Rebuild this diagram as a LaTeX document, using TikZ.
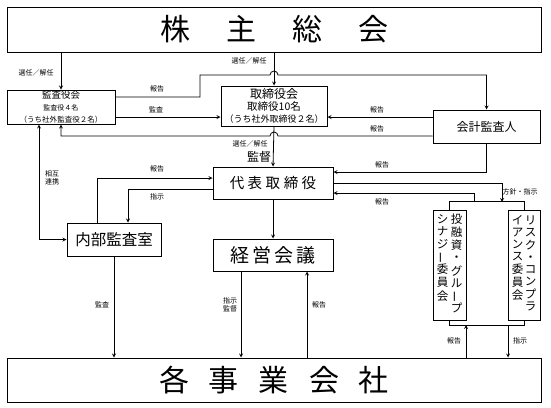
\documentclass[tikz,border=0pt]{standalone}
\usepackage{fontspec}
\setmainfont{Noto Sans CJK JP}
\usepackage{graphicx}
\usetikzlibrary{arrows}
\usetikzlibrary{calc}

\tikzset{
	box/.style={draw, line width=1pt, inner sep=0pt, align=center},
	lbl/.style={inner sep=0pt, align=center, font=\fontsize{7}{8.5}\selectfont},
	link/.style={line width=0.8pt}
}
\newcommand{\tate}[1]{\begin{tabular}[t]{@{}c@{}}#1\end{tabular}}
\newcommand{\tbar}{\rotatebox[origin=c]{90}{ー}}

\begin{document}
\begin{tikzpicture}[>=stealth, x=1pt, y=-1pt]
\useasboundingbox (0,0) rectangle (551,407);

	\node[box, minimum width=534pt, minimum height=45pt, font=\fontsize{30}{32}\selectfont] (soukai) at (274,29.5) {株\hspace{36pt}主\hspace{36pt}総\hspace{36pt}会};
	\node[box, minimum width=534pt, minimum height=44pt, font=\fontsize{30}{32}\selectfont] (kaisha) at (274,380) {各\hspace{20pt}事\hspace{20pt}業\hspace{20pt}会\hspace{20pt}社};

	\node[box, minimum width=108pt, minimum height=34pt] (kansa) at (61,107) {\fontsize{9.5}{10.5}\selectfont 監査役会\\ \fontsize{7}{10}\selectfont 監査役４名\\ \fontsize{7.5}{10}\selectfont （うち社外監査役２名）};
	\node[box, minimum width=106pt, minimum height=40pt] (tori) at (274,106) {\fontsize{12}{12.5}\selectfont 取締役会\\ \fontsize{10.5}{12.5}\selectfont 取締役10名\\ \fontsize{9}{12.5}\selectfont （うち社外取締役２名）};
	\node[box, minimum width=107pt, minimum height=33pt, font=\fontsize{12}{14}\selectfont] (kaikei) at (486.5,126.5) {会計監査人};
	\node[box, minimum width=120pt, minimum height=32pt, font=\fontsize{14.5}{16}\selectfont] (daihyo) at (273,183) {代\hspace{3.5pt}表\hspace{3.5pt}取\hspace{3.5pt}締\hspace{3.5pt}役};
	\node[box, minimum width=94pt, minimum height=33pt, font=\fontsize{15.5}{17}\selectfont] (naibu) at (114,239.5) {内部監査室};
	\node[box, minimum width=120pt, minimum height=32pt, font=\fontsize{19}{21}\selectfont] (keiei) at (273,255) {経\hspace{3pt}営\hspace{3pt}会\hspace{3pt}議};
	\node[box, minimum width=33pt, minimum height=110pt, font=\fontsize{11.5}{12}\selectfont] (toyushi) at (449.5,265) {\tate{シ\\ナ\\ジ\\\tbar\\委\\員\\会}\hspace{2.5pt}\tate{投\\融\\資\\・\\グ\\ル\\\tbar\\プ}};
	\node[box, minimum width=32pt, minimum height=110pt, font=\fontsize{11.5}{12}\selectfont] (risk) at (524,265) {\tate{イ\\ア\\ン\\ス\\委\\員\\会}\hspace{1.5pt}\tate{リ\\ス\\ク\\・\\コ\\ン\\プ\\ラ}};

	\coordinate (bend) at (200,75);
	\coordinate (hopA) at (270,75);
	\coordinate (hopB) at (278,136);
	\coordinate (shin) at (502,202);
	\coordinate (hou) at (474,202);
	\coordinate (barup) at (466,325);
	\coordinate (bardown) at (508,325);

	% 株主総会から
	\draw[link,->] (kansa.north |- soukai.south) -- (kansa.north);
	\draw[link,->] (tori.north |- soukai.south) -- (tori.north);
	\node[lbl] (l1) at (36,73) {選任／解任};
	\node[lbl] (l2) at (249,61) {選任／解任};

	% 監査役会・会計監査人・取締役会
	\draw[link,->] (kansa.east |- 0,97) -| (bend) -- (hopA) arc(180:360:4) -| (kaikei.north);
	\draw[link,->] (kansa.east |- 0,117) -- (tori.west |- 0,117);
	\draw[link,->] (kaikei.west |- 0,117) -- (tori.east |- 0,117);
	\draw[link,->] (kaikei.west |- 0,136) -- (hopB) arc(0:-180:4) -| (kansa.south);
	\node[lbl] (l3) at (157,89) {報告};
	\node[lbl] (l4) at (156,110) {監査};
	\node[lbl] (l5) at (377,110) {報告};
	\node[lbl] (l6) at (377,129) {報告};

	% 取締役会から代表取締役
	\draw[link,->] (tori.south) -- (daihyo.north);
	\node[lbl] (l7) at (250,144) {選任／解任};
	\node[inner sep=0pt, font=\fontsize{12}{13}\selectfont] (l8) at (259,157) {監督};

	% 内部監査室
	\draw[link,<->] (kansa.south -| 39,0) |- (naibu.west);
	\draw[link,->] (naibu.north -| 97,0) |- (daihyo.west |- 0,178);
	\draw[link,->] (daihyo.west |- 0,189) -| (naibu.north -| 128,0);
	\node[lbl] (l9) at (52,178) {相互\\連携};
	\node[lbl] (l10) at (157,169) {報告};
	\node[lbl] (l11) at (157,197) {指示};

	% 代表取締役から右
	\draw[link,->] (daihyo.south) -- (keiei.north);
	\draw[link,->] (kaikei.south) |- (daihyo.east |- 0,172);
	\draw[link,->] (daihyo.east |- 0,183) -| (shin);
	\draw[link,->] (hou) |- (daihyo.east |- 0,193);
	\node[lbl] (l12) at (382,165) {報告};
	\node[lbl] (l13) at (382,202) {報告};
	\node[lbl] (l14) at (520,192) {方針・指示};

	% 委員会
	\draw[link] (toyushi.north) -- ++(0,-8) -| (risk.north);
	\draw[link] (toyushi.south) -- ++(0,5) -| (risk.south);
	\draw[link,->] (kaisha.north -| barup) -- (barup);
	\draw[link,->] (bardown) -- (kaisha.north -| bardown);
	\node[lbl] (l15) at (454,341) {報告};
	\node[lbl] (l16) at (520,341) {指示};

	% 各事業会社
	\draw[link,->] (naibu.south) -- (naibu.south |- kaisha.north);
	\draw[link,->] (keiei.south -| 241,0) -- (kaisha.north -| 241,0);
	\draw[link,->] (kaisha.north -| 307,0) -- (keiei.south -| 307,0);
	\node[lbl] (l17) at (102,305) {監査};
	\node[lbl] (l18) at (230,305) {指示\\監督};
	\node[lbl] (l19) at (319,305) {報告};

\end{tikzpicture}
\end{document}
